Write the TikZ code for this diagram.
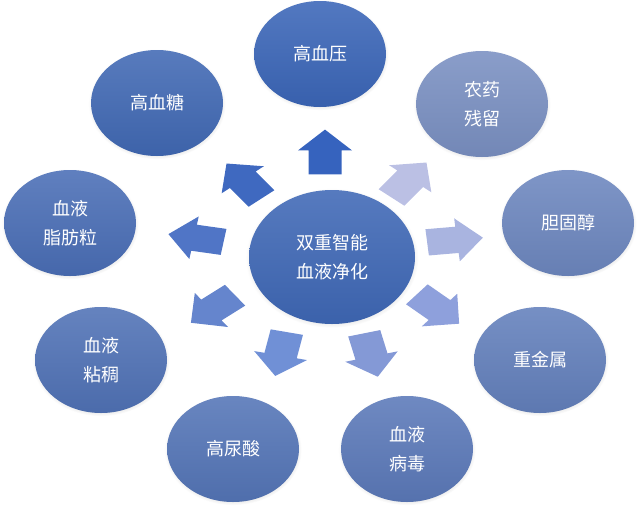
\documentclass[tikz,border=0pt]{standalone}
\usepackage{fontspec}
\newfontfamily\cjk{Noto Sans CJK SC}
\usetikzlibrary{shapes.geometric,shadows}

% ellipse colours
\definecolor{cmid}{HTML}{3F68B6}
\definecolor{cpress}{HTML}{3B66B8}
\definecolor{csugar}{HTML}{4169B4}
\definecolor{cfat}{HTML}{4A6EB6}
\definecolor{cthick}{HTML}{5072B6}
\definecolor{cacid}{HTML}{5475B7}
\definecolor{cvirus}{HTML}{5B79B9}
\definecolor{cmetal}{HTML}{6380BC}
\definecolor{cchol}{HTML}{6D87BF}
\definecolor{cpest}{HTML}{7A90C2}
% arrow colours
\definecolor{aup}{HTML}{3663BE}
\definecolor{aul}{HTML}{3F69C0}
\definecolor{aleft}{HTML}{5075C6}
\definecolor{all}{HTML}{6585CD}
\definecolor{adl}{HTML}{7090D6}
\definecolor{adr}{HTML}{8499D6}
\definecolor{alr}{HTML}{8EA0DC}
\definecolor{aright}{HTML}{A9B4E0}
\definecolor{aur}{HTML}{BBC0E4}

\tikzset{
  ball/.style={ellipse, minimum width=132pt, minimum height=106pt, inner sep=0pt,
    text=white, font=\cjk\fontsize{18}{29}\selectfont, align=center,
    top color=#1!88!white, bottom color=#1!94!black,
    circular drop shadow={shadow xshift=0pt, shadow yshift=-1pt, shadow scale=1.04, opacity=0.3}},
  fatarrow/.pic={
    \fill[pic actions] (-28,-16.5) -- (2,-16.5) -- (2,-27) -- (28,0) -- (2,27) -- (2,16.5) -- (-28,16.5) -- cycle;
  },
  squash/.style={yscale=0.8, drop shadow={opacity=0.2,shadow xshift=1pt,shadow yshift=-1pt}}
}

\begin{document}
\begin{tikzpicture}[x=1pt,y=-1pt]
\useasboundingbox (0,0) rectangle (640,509);

% the nine outer ellipses
\node[ball=cpress] (press) at (320,54) {高血压};
\node[ball=cpest] (pest) at (482,104) {农药\\残留};
\node[ball=cchol] (chol) at (568,223) {胆固醇};
\node[ball=cmetal] (metal) at (540,360) {重金属};
\node[ball=cvirus] (virus) at (407,449) {血液\\病毒};
\node[ball=cacid] (acid) at (233,449) {高尿酸};
\node[ball=cthick] (thick) at (101,360) {血液\\粘稠};
\node[ball=cfat] (fat) at (70,223) {血液\\脂肪粒};
\node[ball=csugar] (sugar) at (157,103) {高血糖};

% centre
\node[ball=cmid, minimum width=166pt, minimum height=134pt] (mid) at (332,257) {双重智能\\血液净化};

% block arrows, squashed like the ellipses
\pic[squash, rotate=90, fill=aup] at (325,152) {fatarrow};
\pic[squash, rotate=128.7, fill=aul] at (244,181) {fatarrow};
\pic[squash, rotate=170, fill=aleft] at (196,238) {fatarrow};
\pic[squash, rotate=218, fill=all] at (213,309) {fatarrow};
\pic[squash, rotate=258, fill=adl] at (281,354) {fatarrow};
\pic[squash, rotate=284, fill=adr] at (371,355) {fatarrow};
\pic[squash, rotate=319, fill=alr] at (438,309) {fatarrow};
\pic[squash, rotate=6, fill=aright] at (455,240) {fatarrow};
\pic[squash, rotate=51.3, fill=aur] at (409,180) {fatarrow};
\end{tikzpicture}
\end{document}
